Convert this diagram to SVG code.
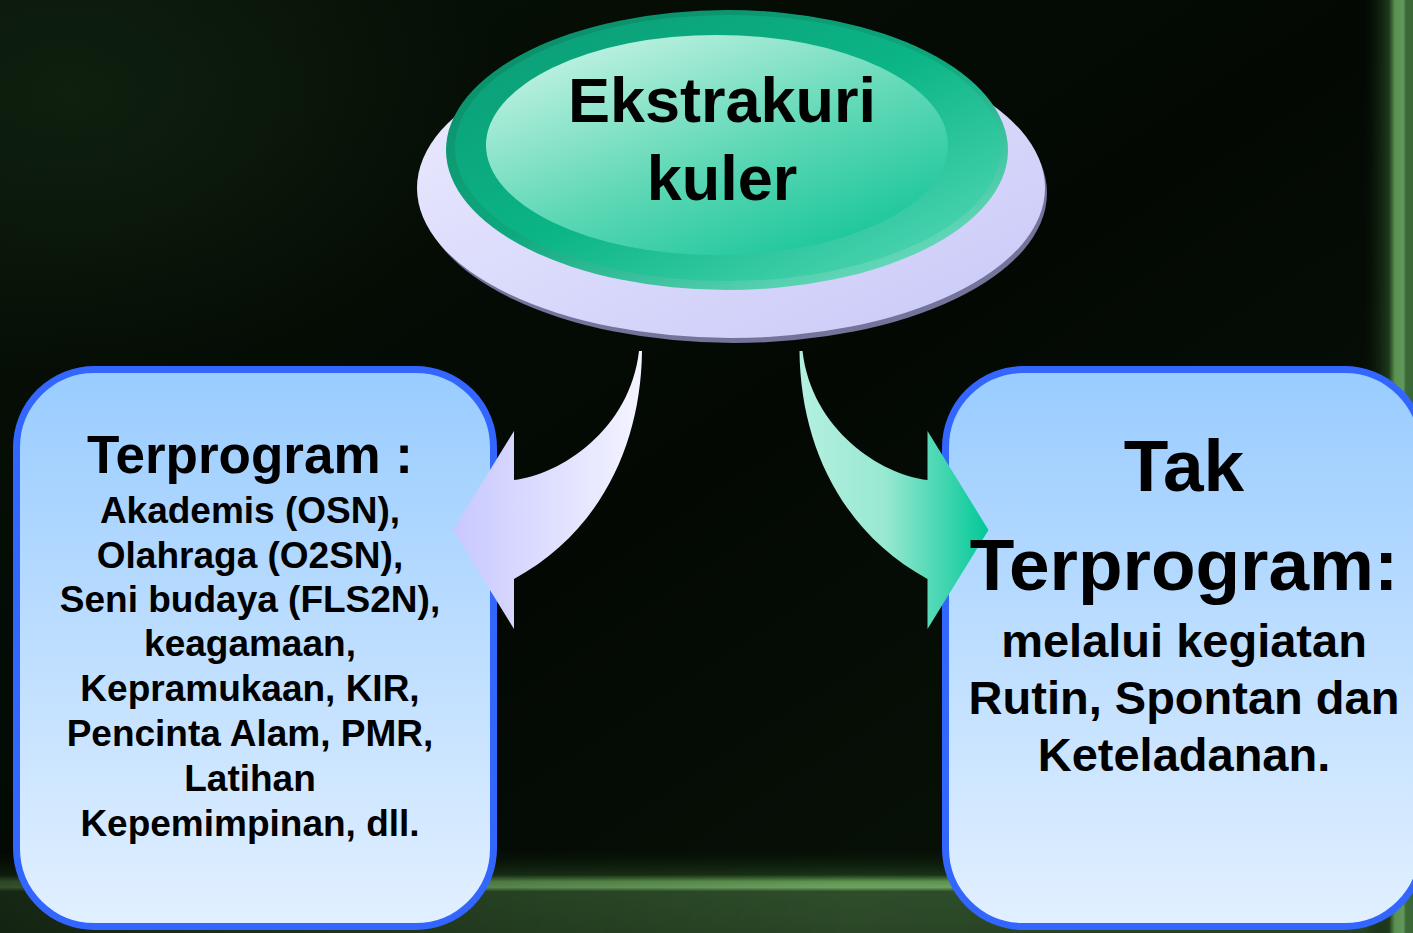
<svg xmlns="http://www.w3.org/2000/svg" width="1413" height="933" viewBox="0 0 1413 933">
  <defs>
    <style>
      .t { font-family: "Liberation Sans", Arial, sans-serif; font-weight: bold; fill: #000; text-anchor: middle; }
      .box { stroke: #3366ff; stroke-width: 7; fill: url(#boxFill); }
    </style>
    <linearGradient id="bg" x1="0" y1="0" x2="1" y2="1">
      <stop offset="0" stop-color="#071207"/>
      <stop offset="0.5" stop-color="#030803"/>
      <stop offset="1" stop-color="#0a160a"/>
    </linearGradient>
    <linearGradient id="hGlow" x1="0" y1="0" x2="0" y2="1">
      <stop offset="0" stop-color="#0e1f0d" stop-opacity="0"/>
      <stop offset="0.3" stop-color="#1a3318"/>
      <stop offset="0.38" stop-color="#5e9450"/>
      <stop offset="0.45" stop-color="#6ea460"/>
      <stop offset="0.5" stop-color="#2e4e2a"/>
      <stop offset="1" stop-color="#2a4626"/>
    </linearGradient>
    <linearGradient id="hFade" x1="0" y1="0" x2="1" y2="0">
      <stop offset="0" stop-color="#fff" stop-opacity="0.45"/>
      <stop offset="0.35" stop-color="#fff" stop-opacity="0.8"/>
      <stop offset="0.6" stop-color="#fff" stop-opacity="1"/>
      <stop offset="1" stop-color="#fff" stop-opacity="0.9"/>
    </linearGradient>
    <mask id="hMask" maskUnits="userSpaceOnUse" x="0" y="850" width="1413" height="83">
      <rect x="0" y="850" width="1413" height="83" fill="url(#hFade)"/>
    </mask>
    <linearGradient id="vGlow" x1="0" y1="0" x2="1" y2="0">
      <stop offset="0" stop-color="#0e1f0d" stop-opacity="0"/>
      <stop offset="0.5" stop-color="#1f3a1c"/>
      <stop offset="0.62" stop-color="#5a9050"/>
      <stop offset="0.8" stop-color="#62985a"/>
      <stop offset="0.85" stop-color="#3c6a38"/>
      <stop offset="1" stop-color="#3a6636"/>
    </linearGradient>
    <radialGradient id="tlGlow" cx="0.05" cy="0.1" r="0.3">
      <stop offset="0" stop-color="#0f200f"/>
      <stop offset="1" stop-color="#0f200f" stop-opacity="0"/>
    </radialGradient>
    <linearGradient id="boxFill" x1="0" y1="0" x2="0" y2="1">
      <stop offset="0" stop-color="#99ccff"/>
      <stop offset="1" stop-color="#e2f0ff"/>
    </linearGradient>
    <linearGradient id="lav" x1="0" y1="0" x2="1" y2="1">
      <stop offset="0" stop-color="#ececff"/>
      <stop offset="1" stop-color="#c8c8f8"/>
    </linearGradient>
    <linearGradient id="rim" x1="0.1" y1="0" x2="0.9" y2="1">
      <stop offset="0" stop-color="#0a8a66"/>
      <stop offset="0.5" stop-color="#0fa87e"/>
      <stop offset="1" stop-color="#7ae4c8"/>
    </linearGradient>
    <linearGradient id="body" x1="0" y1="0" x2="1" y2="1">
      <stop offset="0" stop-color="#0c9a74"/>
      <stop offset="0.5" stop-color="#0bb585"/>
      <stop offset="1" stop-color="#5cdcbc"/>
    </linearGradient>
    <linearGradient id="hi" x1="0.1" y1="0" x2="0.85" y2="1">
      <stop offset="0" stop-color="#cdf5e8"/>
      <stop offset="0.55" stop-color="#5fd8b6"/>
      <stop offset="1" stop-color="#12c496"/>
    </linearGradient>
    <linearGradient id="arrL" gradientUnits="userSpaceOnUse" x1="453" y1="0" x2="642" y2="0">
      <stop offset="0" stop-color="#c8c8ff"/>
      <stop offset="1" stop-color="#f4f4ff"/>
    </linearGradient>
    <linearGradient id="arrR" gradientUnits="userSpaceOnUse" x1="800" y1="0" x2="989" y2="0">
      <stop offset="0" stop-color="#b4f0e0"/>
      <stop offset="0.45" stop-color="#98e8d2"/>
      <stop offset="1" stop-color="#00c896"/>
    </linearGradient>
  </defs>

  <g id="background">
    <rect x="0" y="0" width="1413" height="933" fill="url(#bg)"/>
    <rect x="0" y="0" width="1413" height="933" fill="url(#tlGlow)"/>
    <rect x="0" y="850" width="1413" height="83" fill="url(#hGlow)" mask="url(#hMask)"/>
    <rect x="1365" y="0" width="48" height="933" fill="url(#vGlow)"/>
  </g>

  <g id="node-ekstrakurikuler">
    <ellipse cx="734" cy="193" rx="313" ry="150" fill="#74749a"/>
    <ellipse cx="731" cy="188" rx="314" ry="150" fill="url(#lav)"/>
    <ellipse cx="727" cy="150" rx="281" ry="140" fill="url(#rim)"/>
    <ellipse cx="728" cy="148" rx="273" ry="133" fill="url(#body)"/>
    <ellipse cx="717" cy="145" rx="231" ry="110" fill="url(#hi)"/>
    <text class="t" x="722" y="122" font-size="63">Ekstrakuri</text>
    <text class="t" x="722" y="200" font-size="63">kuler</text>
  </g>

  <g id="node-terprogram-box">
    <rect class="box" x="16.5" y="369.5" width="477" height="557" rx="78" ry="78"/>
  </g>
  <g id="node-tak-terprogram-box">
    <rect class="box" x="945.5" y="369.5" width="477" height="557" rx="78" ry="78"/>
  </g>

  <g id="connectors">
    <path d="M642,351 C641,445 600,532 514,579 L514,629 L453,530 L514,431 L514,480 C560,475 630,430 639,351 Z" fill="url(#arrL)"/>
    <path d="M799.5,351 C800.5,445 841.5,532 927.5,579 L927.5,629 L988.5,530 L927.5,431 L927.5,480 C881.5,475 811.5,430 802.5,351 Z" fill="url(#arrR)"/>
  </g>

  <g id="node-terprogram-text">
    <text class="t" x="250" y="473" font-size="53">Terprogram :</text>
    <text class="t" x="250" y="523" font-size="37">Akademis (OSN),</text>
    <text class="t" x="250" y="568" font-size="37">Olahraga (O2SN),</text>
    <text class="t" x="250" y="612" font-size="37">Seni budaya (FLS2N),</text>
    <text class="t" x="250" y="656" font-size="37">keagamaan,</text>
    <text class="t" x="250" y="701" font-size="37">Kepramukaan, KIR,</text>
    <text class="t" x="250" y="746" font-size="37">Pencinta Alam, PMR,</text>
    <text class="t" x="250" y="791" font-size="37">Latihan</text>
    <text class="t" x="250" y="836" font-size="37">Kepemimpinan, dll.</text>
  </g>

  <g id="node-tak-terprogram-text">
    <text class="t" x="1184" y="491" font-size="73">Tak</text>
    <text class="t" x="1184" y="590" font-size="73">Terprogram:</text>
    <text class="t" x="1184" y="657" font-size="47">melalui kegiatan</text>
    <text class="t" x="1184" y="714" font-size="47">Rutin, Spontan dan</text>
    <text class="t" x="1184" y="771" font-size="47">Keteladanan.</text>
  </g>
</svg>
